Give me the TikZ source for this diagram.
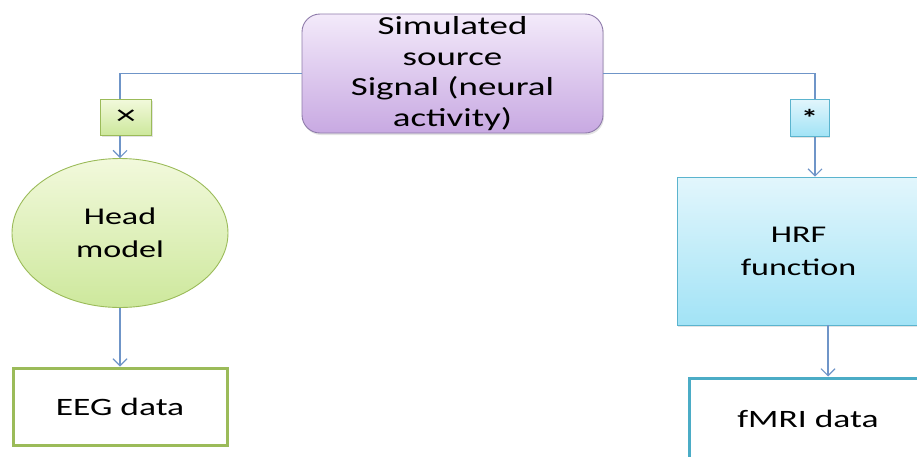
\documentclass[tikz,border=0pt]{standalone}
\usepackage{fontspec}
\setmainfont{Carlito}[FakeStretch=1.42]
\usetikzlibrary{arrows.meta,shapes.geometric,calc,shadows}
\definecolor{lnblue}{HTML}{6F95C8}
\definecolor{purpTop}{HTML}{F3EAFA}
\definecolor{purpBot}{HTML}{C8A9E2}
\definecolor{purpEdge}{HTML}{8E7BAA}
\definecolor{grnTop}{HTML}{F2F9DC}
\definecolor{grnBot}{HTML}{CDE89C}
\definecolor{grnEdge}{HTML}{9BBB59}
\definecolor{cyTop}{HTML}{E2F6FC}
\definecolor{cyBot}{HTML}{A2E3F6}
\definecolor{cyEdge}{HTML}{5BB4CE}
\definecolor{tealEdge}{HTML}{4BACC6}
\tikzset{
  lbl/.style={font=\fontsize{24}{33}\selectfont, align=center, text=black},
  conn/.style={draw=lnblue, line width=1.3pt},
  arr/.style={conn, -{Straight Barb[length=7pt,width=14pt,line width=1.1pt]}},
  opbox/.style={draw=#1, line width=0.9pt, inner sep=0pt},
  shade/.style={drop shadow={opacity=0.22, shadow xshift=1pt, shadow yshift=-2pt}},
}
\begin{document}
\begin{tikzpicture}[x=1pt,y=-1pt]
\useasboundingbox (0,0) rectangle (917,456);
\clip (0,0) rectangle (917,456);

% source signal
\node[lbl, font=\fontsize{26}{30.5}\selectfont, opbox=purpEdge, rounded corners=18pt,
      top color=purpTop, bottom color=purpBot, shade,
      minimum width=301pt, minimum height=119pt] (src) at (452.5,73.5)
  {Simulated\\source\\Signal (neural\\activity)};

% EEG branch
\node[lbl, ellipse, draw=grnEdge, line width=0.9pt, top color=grnTop, bottom color=grnBot,
      minimum width=216pt, minimum height=149pt, inner sep=0pt] (head) at (120,233)
  {Head\\model};
\node[lbl, font=\fontsize{25}{32}\selectfont, draw=grnEdge, line width=3pt, fill=white,
      minimum width=214pt, minimum height=77pt] (eeg) at (120,406.5) {EEG data};

% fMRI branch
\node[lbl, opbox=cyEdge, top color=cyTop, bottom color=cyBot, shade,
      minimum width=243pt, minimum height=148pt] (hrf) at (798.5,251)
  {HRF\\function};
\node[lbl, font=\fontsize{25}{32}\selectfont, draw=tealEdge, line width=3pt, fill=white,
      minimum width=238pt, minimum height=82pt] (fmri) at (808,419) {fMRI data};

% connectors
\draw[arr] (src.west) -| (head.north);
\draw[arr] (src.east) -| ($(hrf.north)+(16.5,0)$);
\draw[arr] (head.south) -- (eeg.north);
\draw[arr] ($(hrf.south)+(29.5,0)$) -- ($(fmri.north)+(20,0)$);

% operator boxes
\node[opbox=grnEdge, top color=grnTop, bottom color=grnBot, shade, minimum width=51pt, minimum height=36pt,
      font=\fontsize{28}{28}\selectfont] (mult) at (126,117) {×};
\node[opbox=cyEdge, top color=cyTop, bottom color=cyBot, shade, minimum width=39pt, minimum height=37pt,
      font=\fontsize{24}{24}\selectfont\bfseries] (conv) at (809.5,117.5) {*};
\end{tikzpicture}
\end{document}
